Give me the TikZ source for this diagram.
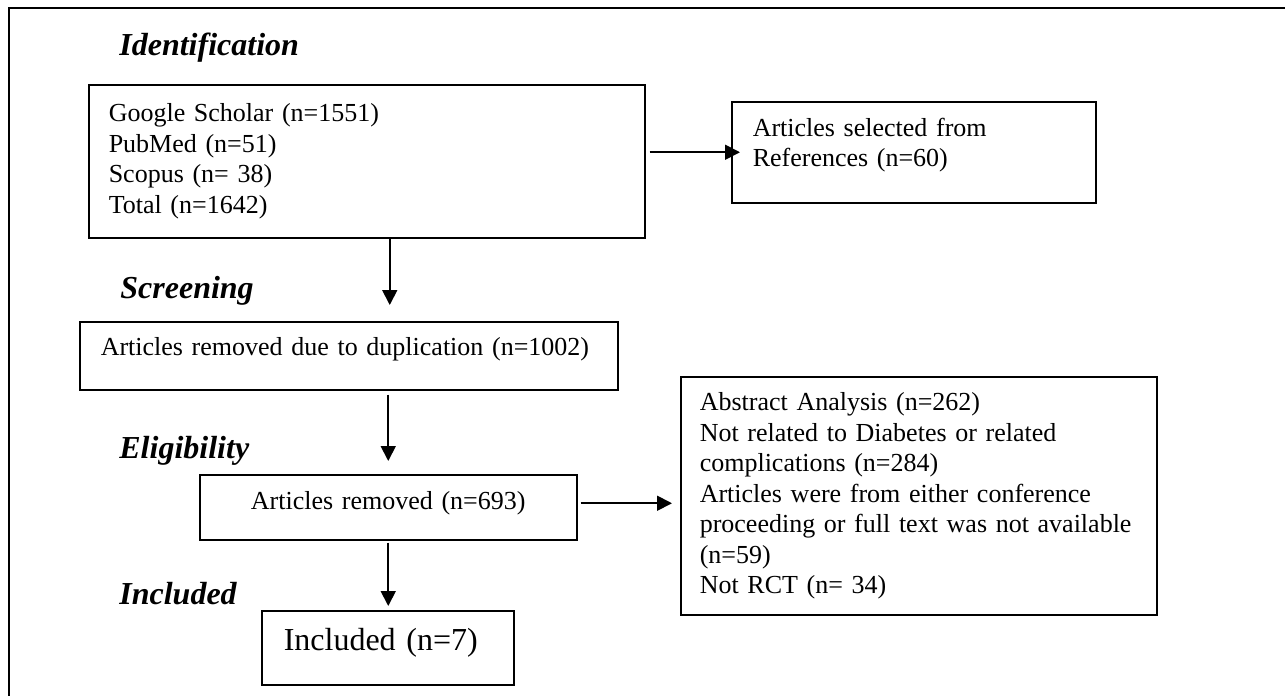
\documentclass[tikz,border=0pt]{standalone}
\usepackage{fontspec}
\setmainfont{Liberation Serif}
\usetikzlibrary{arrows.meta,positioning}

\begin{document}
\begin{tikzpicture}[x=0.5pt,y=-0.5pt,
  box/.style={draw, line width=0.75pt, anchor=north west, align=left,
              inner xsep=10.5pt, inner ysep=0pt,
              font=\fontsize{13pt}{15.25pt}\selectfont},
  head/.style={anchor=base west, inner sep=0pt,
               font=\fontsize{16pt}{19pt}\selectfont\bfseries\itshape},
  arr/.style={line width=0.9pt, -{Triangle[length=7.5pt,width=7.5pt]}}]
  \useasboundingbox (0,0) rectangle (1285,696);
  % Frame
  \draw[line width=0.75pt] (1285,8) -- (9,8) -- (9,696);
  % Stage labels
  \node[head] (lident) at (119,55) {Identification};
  \node[head] (lscreen) at (120,298) {Screening};
  \node[head] (lelig) at (119,458) {Eligibility};
  \node[head] (lincl) at (119,604) {Included};
  % Boxes
  \node[box, inner xsep=10pt, text width=258pt, minimum height=76.5pt] (src) at (88,84)
    {Google Scholar (n=1551)\\PubMed (n=51)\\Scopus (n= 38)\\Total (n=1642)};
  \node[box, text width=161pt, minimum height=50.5pt, text depth=25pt] (refs) at (731,101)
    {Articles selected from\\References (n=60)};
  \node[box, text width=248pt, minimum height=34pt, text depth=9.4pt] (dup) at (79,321)
    {Articles removed due to duplication (n=1002)};
  \node[box, align=center, text width=167.5pt, minimum height=32.5pt, text depth=6.9pt] (rem) at (199,474)
    {Articles removed (n=693)};
  \node[box, inner xsep=9.5pt, text width=219pt, minimum height=119pt] (excl) at (680,376)
    {Abstract Analysis (n=262)\\
     Not related to Diabetes or related\\
     complications (n=284)\\
     Articles were from either conference\\
     proceeding or full text was not available\\
     (n=59)\\
     Not RCT (n= 34)};
  \node[box, inner xsep=11pt, text width=104pt, minimum height=37pt, text depth=8.8pt,
        font=\fontsize{16pt}{19pt}\selectfont] (incl) at (261,610)
    {Included (n=7)};
  % Arrows
  \draw[arr, shorten <=2pt, shorten >=-4.5pt] (src.east |- refs.west) -- (refs.west);
  \draw[arr, shorten >=8pt] ([xshift=11.5pt]src.south) -- ([xshift=11.5pt]src.south |- dup.north);
  \draw[arr, shorten <=2pt, shorten >=6.5pt] (rem.north |- dup.south) -- (rem.north);
  \draw[arr, shorten <=1.5pt, shorten >=4pt] ([yshift=2pt]rem.east) -- ([yshift=2pt]rem.east -| excl.west);
  \draw[arr, shorten <=1pt, shorten >=2pt] (rem.south) -- (rem.south |- incl.north);
\end{tikzpicture}
\end{document}
